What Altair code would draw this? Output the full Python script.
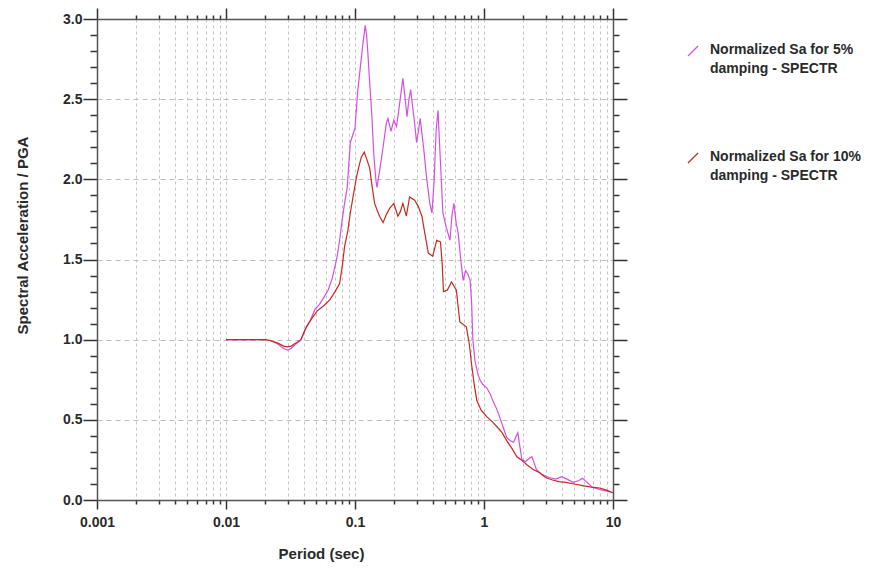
import altair as alt
import pandas as pd

# ---- data ----
t5 = [0.01, 0.015, 0.02, 0.022, 0.025, 0.028, 0.03, 0.032, 0.035, 0.038, 0.041, 0.045,
      0.049, 0.053, 0.058, 0.062, 0.067, 0.072, 0.076, 0.079, 0.083, 0.087, 0.092, 0.1,
      0.105, 0.11, 0.115, 0.12, 0.123, 0.126, 0.13, 0.135, 0.14, 0.145, 0.148, 0.155,
      0.165, 0.175, 0.18, 0.19, 0.2, 0.21, 0.22, 0.235, 0.245, 0.253, 0.262, 0.27, 0.28,
      0.29, 0.3, 0.31, 0.32, 0.34, 0.36, 0.38, 0.395, 0.41, 0.425, 0.44, 0.46, 0.48,
      0.51, 0.545, 0.565, 0.585, 0.61, 0.63, 0.66, 0.69, 0.72, 0.75, 0.78, 0.8, 0.82,
      0.85, 0.9, 0.93, 0.98, 1.05, 1.12, 1.17, 1.25, 1.32, 1.4, 1.5, 1.6, 1.7, 1.78,
      1.83, 1.9, 1.97, 2.1, 2.25, 2.35, 2.45, 2.55, 2.8, 3.2, 3.6, 4.0, 4.4, 4.9, 5.4,
      5.8, 6.3, 6.9, 8.0, 9.0, 10.0]
sa5 = [1.0, 1.0, 1.0, 0.995, 0.975, 0.945, 0.935, 0.945, 0.975, 0.995, 1.06, 1.12,
       1.19, 1.22, 1.27, 1.31, 1.39, 1.5, 1.62, 1.73, 1.85, 1.95, 2.23, 2.32,
       2.55, 2.7, 2.84, 2.96, 2.9, 2.78, 2.6, 2.4, 2.15, 2.0, 1.95, 2.05,
       2.2, 2.35, 2.38, 2.3, 2.37, 2.33, 2.45, 2.63, 2.5, 2.39, 2.5, 2.56, 2.45,
       2.35, 2.23, 2.3, 2.38, 2.2, 2.0, 1.85, 1.79, 1.98, 2.3, 2.43, 2.1, 1.79,
       1.7, 1.62, 1.78, 1.85, 1.72, 1.67, 1.5, 1.37, 1.43, 1.41, 1.37, 1.25, 1.0,
       0.87, 0.78, 0.75, 0.72, 0.7, 0.66, 0.62, 0.57, 0.52, 0.46, 0.39, 0.37, 0.36, 0.4,
       0.42, 0.33, 0.25, 0.24, 0.26, 0.27, 0.23, 0.19, 0.16, 0.14, 0.13, 0.145, 0.13, 0.11, 0.12,
       0.135, 0.11, 0.08, 0.065, 0.055, 0.045]

t10 = [0.01, 0.015, 0.02, 0.022, 0.025, 0.028, 0.03, 0.032, 0.035, 0.038, 0.042, 0.046,
       0.051, 0.057, 0.064, 0.07, 0.076, 0.08, 0.083, 0.088, 0.092, 0.097, 0.103, 0.108,
       0.112, 0.118, 0.124, 0.13, 0.136, 0.142, 0.148, 0.155, 0.165, 0.175, 0.186, 0.2,
       0.215, 0.225, 0.235, 0.25, 0.265, 0.29, 0.31, 0.33, 0.35, 0.37, 0.4, 0.43, 0.46,
       0.475, 0.485, 0.52, 0.56, 0.61, 0.65, 0.73, 0.77, 0.8, 0.84, 0.88, 0.95, 1.05,
       1.15, 1.25, 1.38, 1.5, 1.65, 1.8, 1.95, 2.15, 2.4, 2.7, 3.0, 3.4, 3.8, 4.3, 5.0,
       5.8, 6.8, 7.9, 9.0, 10.0]
sa10 = [1.0, 1.0, 1.0, 0.995, 0.98, 0.96, 0.955, 0.96, 0.98, 1.0, 1.08, 1.13,
        1.18, 1.21, 1.25, 1.3, 1.35, 1.47, 1.58, 1.68, 1.79, 1.9, 2.02, 2.09,
        2.14, 2.17, 2.12, 2.07, 1.95, 1.85, 1.81, 1.77, 1.73, 1.78, 1.82, 1.85,
        1.77, 1.8, 1.85, 1.77, 1.89, 1.87, 1.83, 1.77, 1.65, 1.54, 1.52, 1.62, 1.61,
        1.46, 1.3, 1.31, 1.36, 1.31, 1.11, 1.08, 0.97, 0.85, 0.72, 0.62, 0.56, 0.52,
        0.49, 0.46, 0.42, 0.37, 0.32, 0.27, 0.25, 0.22, 0.19, 0.17, 0.14, 0.125, 0.115, 0.11, 0.1,
        0.09, 0.08, 0.075, 0.06, 0.045]

series_names = ["Normalized Sa for 5% damping - SPECTR", "Normalized Sa for 10% damping - SPECTR"]
series_colors = ["#d84fe0", "#c8281f"]

x_ticks = [m * 10.0 ** e for e in range(-3, 1) for m in range(1, 10)] + [10.0]
y_ticks = [round(i * 0.1, 1) for i in range(0, 31)]

df = pd.concat([
    pd.DataFrame({"T": t5, "Sa": sa5, "series": series_names[0], "order": range(len(t5))}),
    pd.DataFrame({"T": t10, "Sa": sa10, "series": series_names[1], "order": range(len(t10))}),
])

DECADE = "abs(log(datum.value)/LN10 - round(log(datum.value)/LN10)) < 0.001"
HALF = "abs(datum.value*2 - round(datum.value*2)) < 0.001"
FONT = "Liberation Sans"
TXT = "#2a2a2a"

xscale = alt.Scale(type="log", domain=[0.001, 10], nice=False)
yscale = alt.Scale(domain=[0, 3], nice=False, zero=False)

lines = alt.Chart(df).mark_line(strokeWidth=1.2, clip=True).encode(
    x=alt.X("T:Q", scale=xscale, axis=alt.Axis(
        orient="bottom", values=x_ticks, format="~g",
        labelExpr=f"({DECADE}) ? datum.label : ''",
        labelOverlap=False, labelFlush=False,
        labelFont=FONT, labelFontSize=14, labelFontWeight="bold", labelColor=TXT,
        labelPadding=6,
        tickSize={"condition": {"test": DECADE, "value": 9}, "value": 4},
        tickColor="#333", tickWidth=1.5,
        domainColor="#555", domainWidth=1.5,
        grid=True, gridColor="#c4c4c4", gridDash=[3, 3], gridWidth=1,
        title="Period (sec)", titleFont=FONT, titleFontSize=15, titleFontWeight="bold",
        titleColor=TXT, titleX=224, titleY=53, titleAlign="center", titleBaseline="middle",
    )),
    y=alt.Y("Sa:Q", scale=yscale, axis=alt.Axis(
        orient="left", values=y_ticks, format=".1f",
        labelExpr=f"({HALF}) ? datum.label : ''",
        labelOverlap=False, labelFlush=False,
        labelFont=FONT, labelFontSize=14, labelFontWeight="bold", labelColor=TXT,
        labelPadding=1,
        tickSize={"condition": {"test": HALF, "value": 14}, "value": 7},
        tickColor="#333", tickWidth=1.5,
        domainColor="#555", domainWidth=1.5,
        grid=True, gridColor="#bdbdbd", gridDash=[5, 4], gridWidth=1,
        gridOpacity={"condition": {"test": HALF, "value": 1}, "value": 0},
        title="Spectral Acceleration / PGA", titleFont=FONT, titleFontSize=15,
        titleFontWeight="bold", titleColor=TXT, titleAngle=270,
        titleX=-75, titleY=216, titleAlign="center", titleBaseline="middle",
    )),
    color=alt.Color("series:N", scale=alt.Scale(domain=series_names, range=series_colors), legend=None),
    order="order:Q",
)

frame = alt.Chart(df).mark_line(opacity=0).encode(
    x=alt.X("T:Q", scale=xscale, axis=alt.Axis(
        orient="top", values=x_ticks, labels=False, title="",
        tickSize={"condition": {"test": DECADE, "value": 11}, "value": 4},
        tickColor="#333", tickWidth=1.5, domainColor="#555", domainWidth=1.5, grid=False,
    )),
    y=alt.Y("Sa:Q", scale=yscale, axis=alt.Axis(
        orient="right", values=y_ticks, labels=False, title="",
        tickSize={"condition": {"test": HALF, "value": 14}, "value": 6},
        tickColor="#333", tickWidth=1.5, domainColor="#555", domainWidth=1.5, grid=False,
    )),
    detail="series:N",
)

leg_df = pd.DataFrame({"label": ["Normalized Sa for 5%\ndamping - SPECTR",
                                 "Normalized Sa for 10%\ndamping - SPECTR"]})

def legend_entry(i, ytop):
    text = alt.Chart(leg_df.iloc[[i]]).mark_text(
        align="left", baseline="middle", font=FONT, fontSize=14, fontWeight="bold",
        color=TXT, lineBreak="\n", lineHeight=19,
    ).encode(x=alt.value(613), y=alt.value(ytop), text="label:N")
    icon = alt.Chart(leg_df.iloc[[i]]).mark_rule(color=series_colors[i], strokeWidth=1.3).encode(
        x=alt.value(591), x2=alt.value(601), y=alt.value(ytop + 6), y2=alt.value(ytop - 4))
    return [text, icon]

layers = [lines, frame] + legend_entry(0, 31) + legend_entry(1, 138)

chart = alt.layer(*layers).properties(
    width=516, height=481,
    autosize=alt.AutoSizeParams(type="none"),
    padding={"left": 97, "top": 19, "right": 266, "bottom": 68},
    background="white",
).configure_view(stroke=None)

chart.save("out.html", embed_options={"renderer": "svg", "actions": False})
